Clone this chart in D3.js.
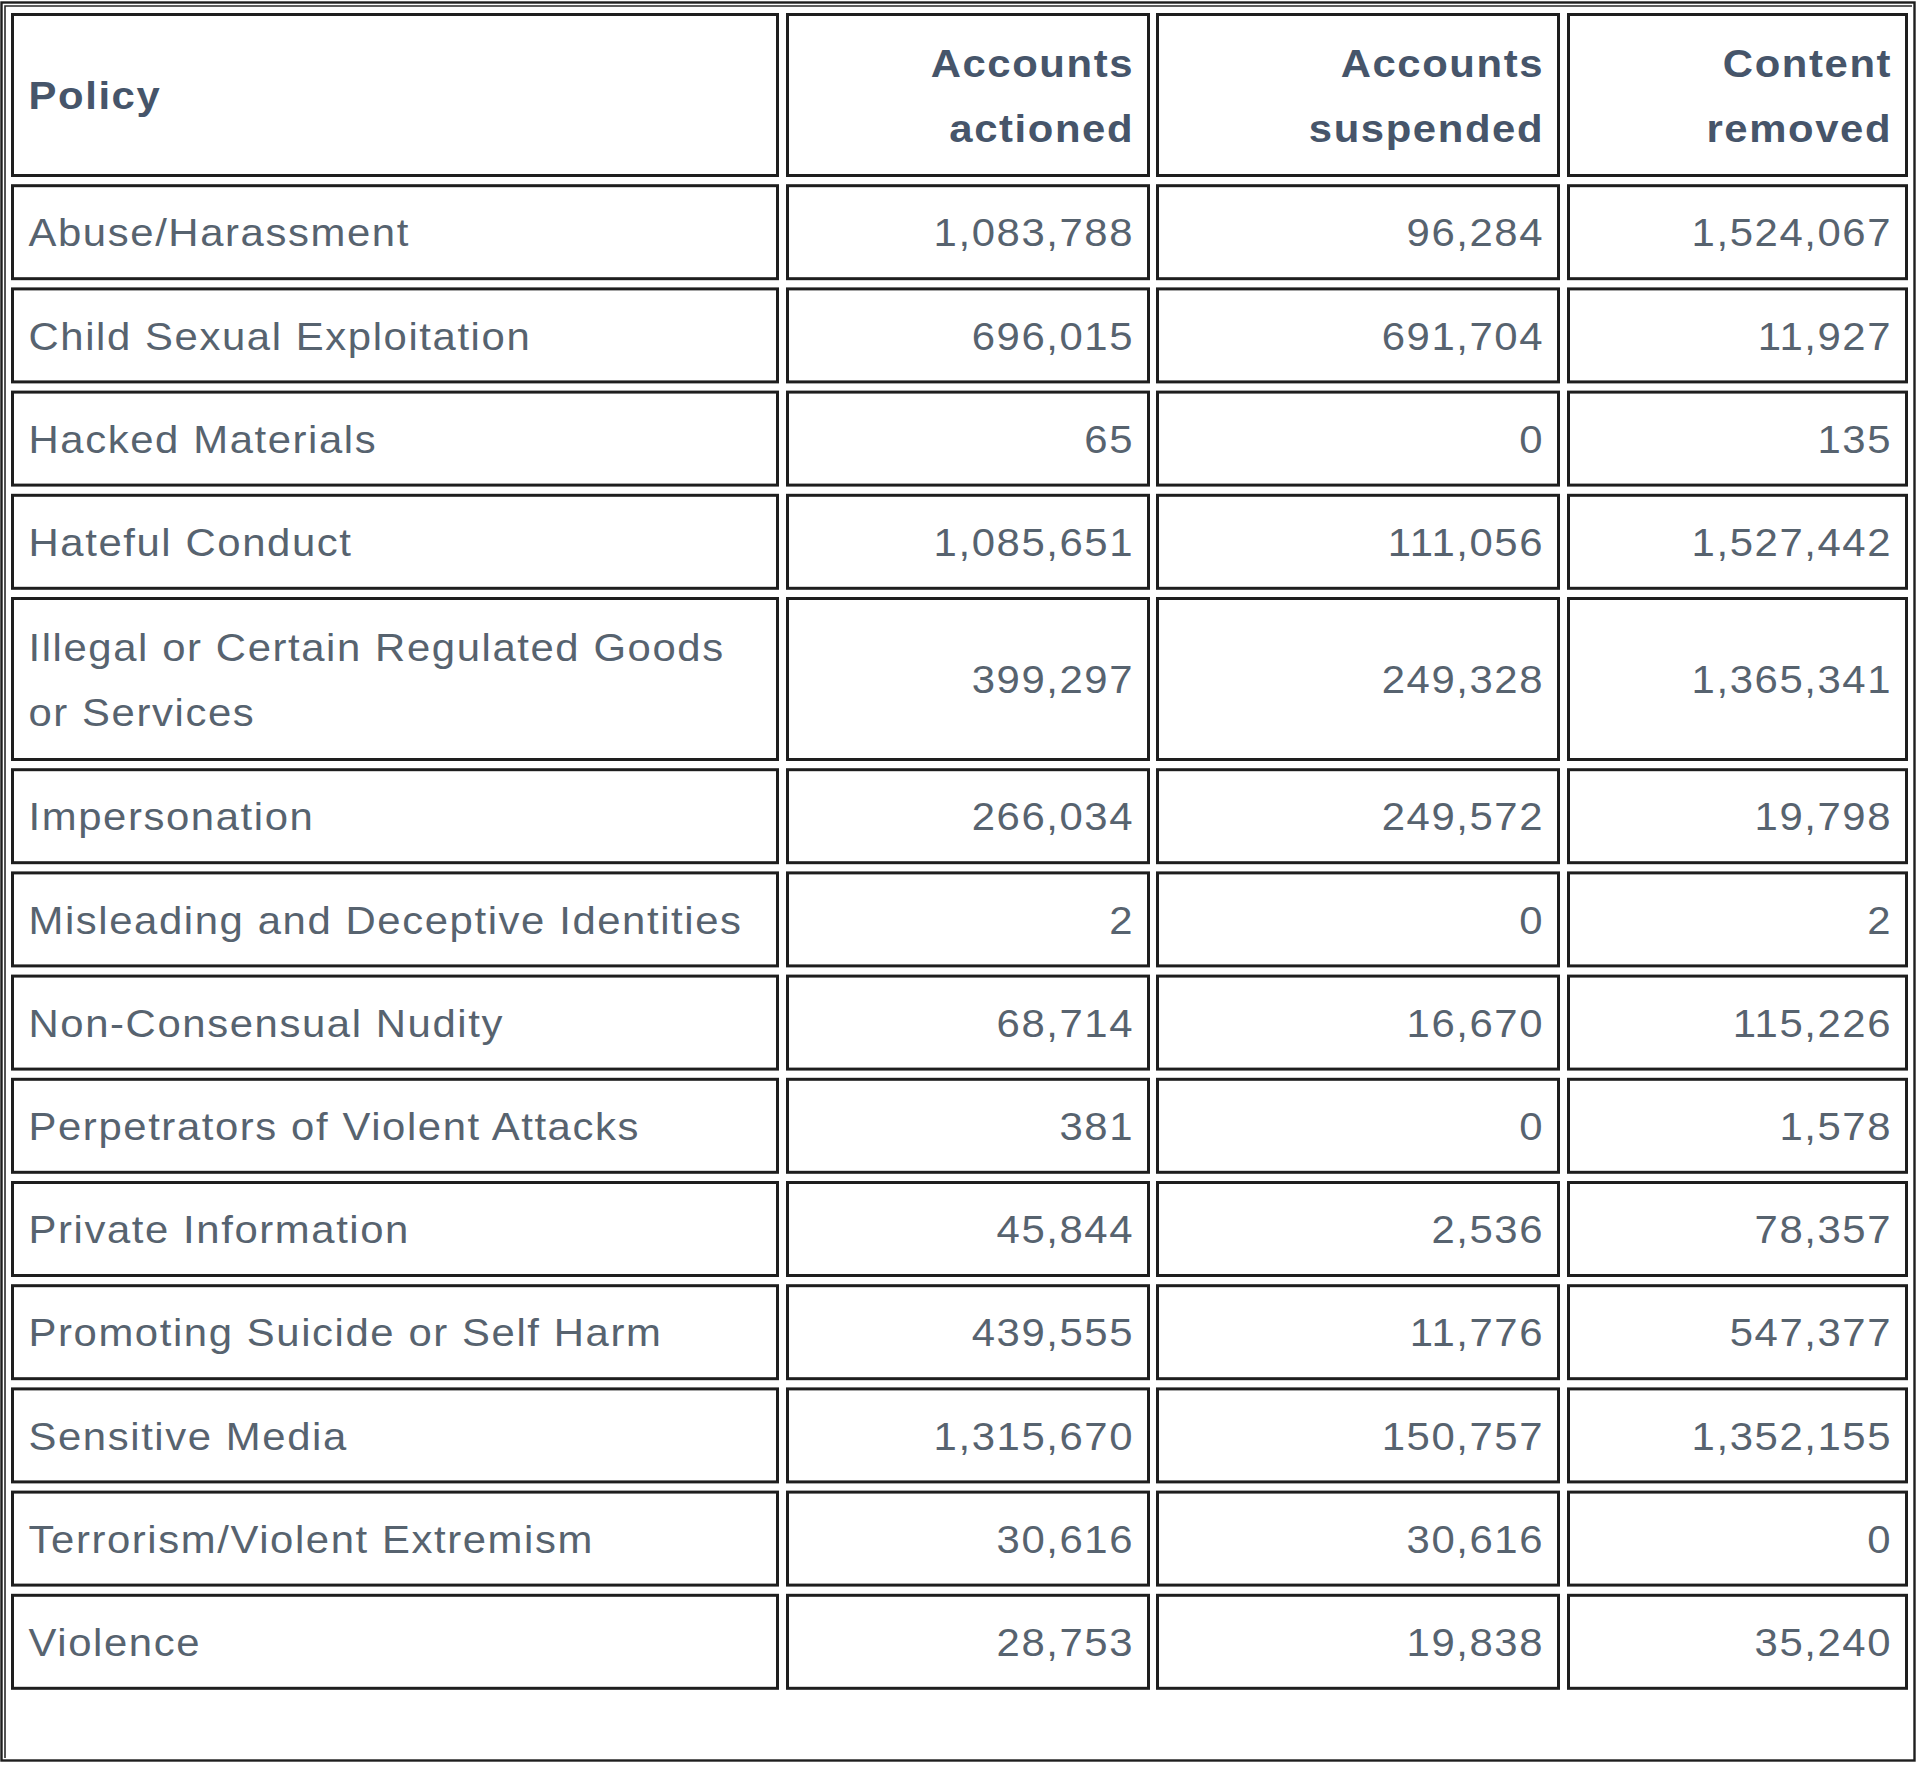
<!DOCTYPE html>
<html>
<head>
<meta charset="utf-8">
<script src="https://cdn.jsdelivr.net/npm/d3@7"></script>
<style>
  html, body { margin: 0; padding: 0; background: #ffffff; }
  svg { display: block; }
  text { font-family: "Liberation Sans", Arial, Helvetica, sans-serif; }
</style>
</head>
<body>
<svg id="chart" width="1920" height="1768"></svg>
<script>
// ---- data ----
const columnHeaders = ["Policy", "Accounts actioned", "Accounts suspended", "Content removed"];
const policies = [
  "Abuse/Harassment",
  "Child Sexual Exploitation",
  "Hacked Materials",
  "Hateful Conduct",
  "Illegal or Certain Regulated Goods or Services",
  "Impersonation",
  "Misleading and Deceptive Identities",
  "Non-Consensual Nudity",
  "Perpetrators of Violent Attacks",
  "Private Information",
  "Promoting Suicide or Self Harm",
  "Sensitive Media",
  "Terrorism/Violent Extremism",
  "Violence"
];
const accountsActioned  = [1083788, 696015, 65, 1085651, 399297, 266034, 2, 68714, 381, 45844, 439555, 1315670, 30616, 28753];
const accountsSuspended = [96284, 691704, 0, 111056, 249328, 249572, 0, 16670, 0, 2536, 11776, 150757, 30616, 19838];
const contentRemoved    = [1524067, 11927, 135, 1527442, 1365341, 19798, 2, 115226, 1578, 78357, 547377, 1352155, 0, 35240];

// ---- layout ----
const svg = d3.select("#chart");
const tableLeft = 11, tableTop = 13;
const colWidths = [768, 364, 404, 341];
const colGaps = [7, 6, 7];
const rowGap = 7.2;
const singleRowH = 96;
const extraLineH = 68;
const lineStep = 65;
const padX = 17.5;
const fontSize = 39.5;
const stretchX = 1.06;
const letterSpacing = 1.5;
const capHalf = 14.1;
const bodyColor = "#57636f";
const headColor = "#46556a";
const borderColor = "#1e1e1e";

const colX = [];
{ let x = tableLeft; colWidths.forEach((w, i) => { colX.push(x); x += w + (colGaps[i] || 0); }); }

const fmt = d3.format(",");

// measuring helper for wrapping
const measure = svg.append("text")
  .attr("font-size", fontSize)
  .attr("letter-spacing", letterSpacing)
  .attr("x", -5000).attr("y", -5000);
function textWidth(str, bold) {
  measure.attr("font-weight", bold ? "bold" : "normal").text(str);
  return measure.node().getComputedTextLength() * stretchX;
}
function wrap(str, width, bold) {
  const words = str.split(" ");
  const lines = [];
  let cur = "";
  words.forEach(w => {
    const test = cur ? cur + " " + w : w;
    if (cur && textWidth(test, bold) > width) { lines.push(cur); cur = w; }
    else cur = test;
  });
  if (cur) lines.push(cur);
  return lines;
}

const rows = [];
rows.push({
  header: true,
  cells: columnHeaders.map((h, i) => ({
    lines: wrap(h, colWidths[i] - 2 * padX + 8, true),
    align: i === 0 ? "start" : "end"
  }))
});
policies.forEach((p, r) => {
  rows.push({
    header: false,
    cells: [
      { lines: wrap(p, colWidths[0] - 2 * padX + 8, false), align: "start" },
      { lines: [fmt(accountsActioned[r])], align: "end" },
      { lines: [fmt(accountsSuspended[r])], align: "end" },
      { lines: [fmt(contentRemoved[r])], align: "end" }
    ]
  });
});
measure.remove();

let y = tableTop;
rows.forEach(r => {
  const n = d3.max(r.cells, c => c.lines.length);
  r.y = y;
  r.h = singleRowH + (n - 1) * extraLineH;
  y += r.h + rowGap;
});

// outer table border (outset style)
svg.append("rect")
  .attr("x", 1.5).attr("y", 2.5)
  .attr("width", 1913).attr("height", 1758)
  .attr("fill", "none").attr("stroke", borderColor).attr("stroke-width", 2.4);
svg.append("path")
  .attr("d", "M5,1758 L5,6 L1912,6")
  .attr("fill", "none").attr("stroke", "#2a2a2a").attr("stroke-width", 1.6);

const rowG = svg.selectAll("g.row").data(rows).join("g")
  .attr("class", "row")
  .attr("transform", d => `translate(0,${d.y})`);

const cellG = rowG.selectAll("g.cell")
  .data(d => d.cells.map((c, i) => ({ ...c, col: i, h: d.h, header: d.header })))
  .join("g").attr("class", "cell");

cellG.append("rect")
  .attr("x", d => colX[d.col] + 1.5)
  .attr("y", 1.5)
  .attr("width", d => colWidths[d.col] - 3)
  .attr("height", d => d.h - 3)
  .attr("fill", "#ffffff")
  .attr("stroke", borderColor)
  .attr("stroke-width", 3);

cellG.each(function(d) {
  const g = d3.select(this);
  const n = d.lines.length;
  const cy = d.h / 2;
  d.lines.forEach((line, k) => {
    const lineCenter = cy + (k - (n - 1) / 2) * lineStep;
    const x = d.align === "start"
      ? colX[d.col] + padX
      : colX[d.col] + colWidths[d.col] - padX + letterSpacing * stretchX;
    g.append("text")
      .attr("transform", `translate(${x},${lineCenter + capHalf}) scale(${stretchX},1)`)
      .attr("text-anchor", d.align)
      .attr("font-size", fontSize)
      .attr("letter-spacing", letterSpacing)
      .attr("font-weight", d.header ? "bold" : "normal")
      .attr("fill", d.header ? headColor : bodyColor)
      .text(line);
  });
});
</script>
</body>
</html>
